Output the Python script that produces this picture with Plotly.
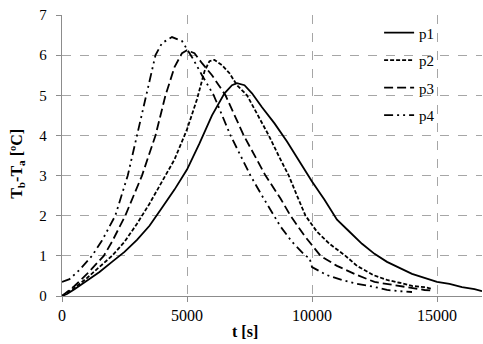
import plotly.graph_objects as go

# ---- data ----
t_p1 = [0, 200, 500, 1000, 1500, 2000, 2500, 3000, 3500, 4000, 4500, 5000, 5500, 6000, 6500, 6800,
        7000, 7300, 7600, 8000, 8500, 9000, 9500, 10000, 10500, 11000, 11500, 12000, 12500, 13000,
        13500, 14000, 14500, 15000, 15500, 16000, 16500, 16800]
y_p1 = [0, 0.05, 0.17, 0.38, 0.6, 0.85, 1.1, 1.4, 1.75, 2.2, 2.65, 3.15, 3.8, 4.5, 5.05, 5.25,
        5.3, 5.25, 5.05, 4.7, 4.3, 3.85, 3.35, 2.85, 2.4, 1.9, 1.6, 1.3, 1.05, 0.85,
        0.7, 0.55, 0.45, 0.35, 0.3, 0.22, 0.17, 0.12]

t_p2 = [0, 500, 1000, 1500, 2000, 2500, 3000, 3500, 4000, 4500, 5000, 5400, 5700, 5900, 6100, 6400,
        6700, 7000, 7400, 7800, 8270, 8700, 9070, 9400, 9740, 10200, 10700, 11340, 11800, 12460,
        13000, 13500, 14000, 14500, 14800]
y_p2 = [0, 0.2, 0.45, 0.72, 1.0, 1.35, 1.8, 2.3, 2.85, 3.4, 4.15, 4.9, 5.6, 5.85, 5.88, 5.75,
        5.55, 5.25, 5.0, 4.55, 4.0, 3.45, 3.0, 2.5, 2.0, 1.6, 1.3, 1.0, 0.75, 0.52,
        0.4, 0.33, 0.25, 0.22, 0.18]

t_p3 = [0, 500, 1000, 1670, 2000, 2530, 3200, 3740, 4140, 4500, 4800, 5000, 5300, 5600, 6000, 6540,
        7270, 8140, 8740, 9140, 9700, 10340, 11000, 11810, 12500, 13000, 13500, 14000, 14500, 14800]
y_p3 = [0, 0.25, 0.55, 1.0, 1.35, 2.0, 3.0, 4.0, 5.0, 5.7, 6.05, 6.12, 6.05, 5.8, 5.5, 5.0,
        4.0, 3.0, 2.43, 2.0, 1.5, 1.0, 0.75, 0.52, 0.35, 0.3, 0.25, 0.2, 0.15, 0.14]

t_p4 = [0, 300, 700, 1200, 1600, 2130, 2630, 3000, 3400, 3740, 4000, 4400, 4800, 5200, 5600, 6070,
        6740, 7540, 8000, 8500, 8740, 9200, 9740, 9900, 10000, 10300, 10600, 11200, 11800, 12470,
        13000, 13500, 14000]
y_p4 = [0.35, 0.42, 0.65, 1.0, 1.38, 2.0, 3.0, 4.0, 5.0, 6.0, 6.3, 6.45, 6.35, 5.95, 5.5, 5.0,
        4.0, 3.0, 2.5, 2.0, 1.73, 1.35, 1.0, 0.95, 0.72, 0.62, 0.52, 0.4, 0.3, 0.23,
        0.15, 0.12, 0.1]

series_names = ["p1", "p2", "p3", "p4"]
x_ticks = [0, 5000, 10000, 15000]
y_ticks = [0, 1, 2, 3, 4, 5, 6, 7]

dashes = ["solid", "4px,2px", "9px,4px", "9px,4px,2px,4px,2px,4px"]
data = [(t_p1, y_p1), (t_p2, y_p2), (t_p3, y_p3), (t_p4, y_p4)]

FF = "Liberation Serif, Times New Roman, serif"

fig = go.Figure()
for (tx, ty), name, d in zip(data, series_names, dashes):
    fig.add_trace(go.Scatter(x=tx, y=ty, mode="lines", name=name, legendgroup=name,
                             line=dict(color="black", width=1.8, dash=d)))

grid = "#a6a6a6"
fig.update_layout(
    width=483, height=344,
    margin=dict(l=62, r=1, t=15, b=48),
    paper_bgcolor="white", plot_bgcolor="white",
    font=dict(family=FF, color="black", size=15),
    showlegend=True,
    legend=dict(x=0.755, y=0.995, xanchor="left", yanchor="top",
                bgcolor="rgba(0,0,0,0)", font=dict(size=15, family=FF, color="black"),
                tracegroupgap=5, traceorder="grouped"),
    xaxis=dict(range=[0, 16800], tickvals=x_ticks, ticktext=[str(v) for v in x_ticks],
               showgrid=True, gridcolor=grid, griddash="dash", gridwidth=1,
               showline=True, linecolor="#8c8c8c", linewidth=1.3,
               ticks="outside", ticklen=5, tickcolor="#8c8c8c",
               tickfont=dict(size=16, family=FF, color="black"), zeroline=False),
    yaxis=dict(range=[0, 7], tickvals=y_ticks, ticktext=[str(v) for v in y_ticks],
               showgrid=True, gridcolor=grid, griddash="dash", gridwidth=1,
               showline=True, linecolor="#8c8c8c", linewidth=1.3,
               ticks="outside", ticklen=5, tickcolor="#8c8c8c",
               tickfont=dict(size=15, family=FF, color="black"), zeroline=False,
               ticklabelstandoff=6),
    annotations=[
        dict(text="<b>t [s]</b>", xref="paper", yref="paper", x=(245 - 62) / 420, y=-0.125,
             xanchor="center", yanchor="middle", showarrow=False,
             font=dict(size=16, family=FF, color="black")),
        dict(text="<b>T<sub>b</sub>-T<sub>a</sub> [ºC]</b>", xref="paper", yref="paper",
             x=-0.105, y=0.47, xanchor="center", yanchor="middle", textangle=-90,
             showarrow=False, font=dict(size=16, family=FF, color="black")),
    ],
)

fig.write_html("out.html")
